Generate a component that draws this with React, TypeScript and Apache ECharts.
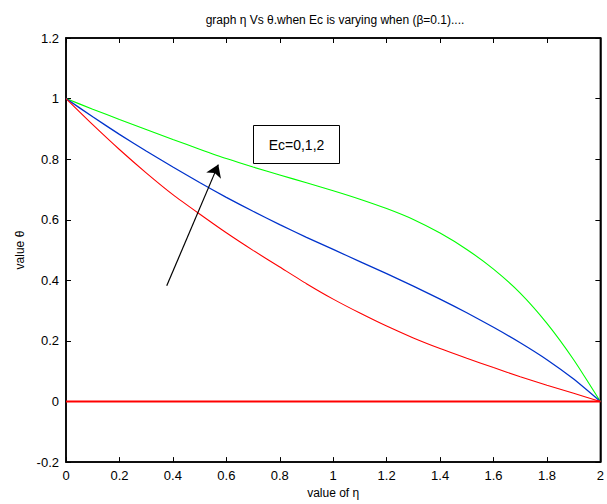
import React, { useEffect, useRef } from "react";
import * as echarts from "echarts";

const eta = [0, 0.1, 0.2, 0.3, 0.4, 0.5, 0.6, 0.7, 0.8, 0.9, 1.0, 1.1, 1.2, 1.3, 1.4, 1.5, 1.6, 1.7, 1.8, 1.9, 2.0];
const thetaEc2 = [1.0, 0.965, 0.931, 0.898, 0.865, 0.833, 0.802, 0.774, 0.748, 0.722, 0.696, 0.668, 0.637, 0.601, 0.556, 0.502, 0.437, 0.358, 0.258, 0.138, 0];
const thetaEc1 = [1.0, 0.94, 0.882, 0.827, 0.774, 0.723, 0.674, 0.628, 0.584, 0.542, 0.502, 0.462, 0.422, 0.381, 0.338, 0.293, 0.245, 0.194, 0.138, 0.074, 0];
const thetaEc0 = [1.0, 0.914, 0.832, 0.755, 0.683, 0.619, 0.557, 0.499, 0.444, 0.389, 0.338, 0.292, 0.249, 0.21, 0.175, 0.143, 0.112, 0.082, 0.054, 0.027, 0];
const zeroLine = [0, 0];
const zeroEta = [0, 2];
const xTicks = { min: 0, max: 2, interval: 0.2 };
const yTicks = { min: -0.2, max: 1.2, interval: 0.2 };
const arrowFrom = [0.377, 0.382];
const arrowTo = [0.57, 0.782];

const FONT = "'Liberation Sans', Arial, sans-serif";

export default function App() {
  const ref = useRef<HTMLDivElement>(null);
  useEffect(() => {
    if (!ref.current) return;
    const chart = echarts.init(ref.current, undefined, { renderer: "svg" });
    const pairs = (ys: number[]) => eta.map((x, i) => [x, ys[i]]);
    const axisCommon = {
      axisLine: { show: true, onZero: false, lineStyle: { color: "#000", width: 1.5 } },
      axisTick: { show: true, inside: true, length: 5, lineStyle: { color: "#000", width: 1 } },
      splitLine: { show: false },
    };
    chart.setOption({
      animation: false,
      backgroundColor: "#fff",
      grid: {
        left: 66, right: 3, top: 38, bottom: 41, containLabel: false,
        show: true, borderColor: "#000", borderWidth: 1.5, backgroundColor: "transparent",
      },
      xAxis: [
        {
          type: "value",
          ...xTicks,
          position: "bottom",
          ...axisCommon,
          axisLabel: { color: "#000", fontSize: 13, fontFamily: FONT, margin: 7 },
          name: "value of η",
          nameLocation: "middle",
          nameGap: 22,
          nameTextStyle: { color: "#000", fontSize: 12, fontFamily: FONT },
        },
        {
          type: "value",
          ...xTicks,
          position: "top",
          ...axisCommon,
          axisLabel: { show: false },
        },
      ],
      yAxis: [
        {
          type: "value",
          ...yTicks,
          position: "left",
          ...axisCommon,
          axisLabel: { color: "#000", fontSize: 13, fontFamily: FONT, margin: 7 },
          name: "value θ",
          nameLocation: "middle",
          nameGap: 37,
          nameTextStyle: { color: "#000", fontSize: 12, fontFamily: FONT },
        },
        {
          type: "value",
          ...yTicks,
          position: "right",
          ...axisCommon,
          axisLabel: { show: false },
        },
      ],
      graphic: [
        {
          type: "text",
          x: 335,
          y: 20,
          style: {
            text: "graph η Vs θ.when Ec is varying when (β=0.1)....",
            fill: "#000",
            font: `12px ${FONT}`,
            textAlign: "center",
            textVerticalAlign: "middle",
          },
        },
        {
          type: "rect",
          shape: { x: 253.5, y: 125.5, width: 86, height: 38 },
          style: { fill: "#fff", stroke: "#000", lineWidth: 1 },
          z: 10,
        },
        {
          type: "text",
          x: 296.5,
          y: 144.5,
          style: {
            text: "Ec=0,1,2",
            fill: "#000",
            font: `14px ${FONT}`,
            textAlign: "center",
            textVerticalAlign: "middle",
          },
          z: 11,
        },
      ],
      series: [
        {
          type: "line",
          data: zeroEta.map((x, i) => [x, zeroLine[i]]),
          showSymbol: false,
          lineStyle: { color: "#ff0000", width: 2.2 },
          z: 3,
        },
        {
          type: "line",
          data: pairs(thetaEc2),
          showSymbol: false,
          smooth: 0.2,
          lineStyle: { color: "#00ff00", width: 1.1 },
          z: 2,
        },
        {
          type: "line",
          data: pairs(thetaEc1),
          showSymbol: false,
          smooth: 0.2,
          lineStyle: { color: "#0033cc", width: 1.3 },
          z: 2,
        },
        {
          type: "line",
          data: pairs(thetaEc0),
          showSymbol: false,
          smooth: 0.2,
          lineStyle: { color: "#ff0000", width: 1.1 },
          z: 2,
          markLine: {
            silent: true,
            symbol: ["none", "arrow"],
            symbolSize: 12,
            label: { show: false },
            lineStyle: { color: "#000", width: 1.2, type: "solid" },
            itemStyle: { color: "#000" },
            data: [[{ coord: arrowFrom }, { coord: arrowTo }]],
          },
        },
      ],
    });
    return () => chart.dispose();
  }, []);
  return (
    <div
      ref={ref}
      style={{ position: "fixed", left: 0, top: 0, width: 607, height: 504 }}
    />
  );
}
